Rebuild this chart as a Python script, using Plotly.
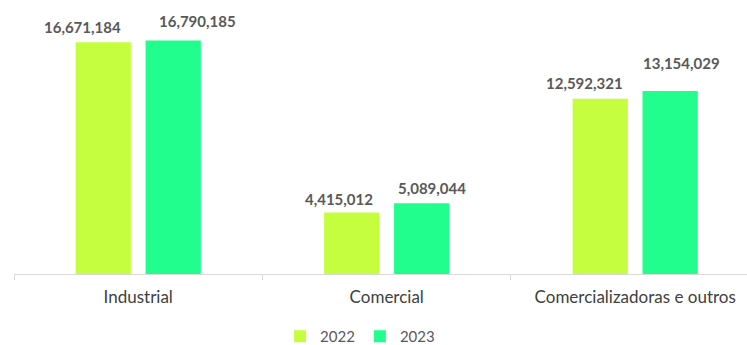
import plotly.graph_objects as go

categories = ["Industrial", "Comercial", "Comercializadoras e outros"]
values_2022 = [16671184, 4415012, 12592321]
values_2023 = [16790185, 5089044, 13154029]

# Hand-placed nudges (px) for the value labels so neighbouring labels don't collide
nudge_2022 = [(-21, 15), (-13, 14), (-16, 16)]
nudge_2023 = [(24, 19), (10, 15), (11, 28)]

FONT = "Lato, Calibri, sans-serif"
label_font = dict(family=FONT, size=15, color="#595959")
BAR_SLOT = 35  # half the pixel pitch between the two bars in a group

fig = go.Figure()
series = [("2022", values_2022, "#C5FE3E", nudge_2022, -1),
          ("2023", values_2023, "#21FE8D", nudge_2023, 1)]
for name, vals, color, nudges, side in series:
    fig.add_trace(go.Bar(name=name, x=categories, y=vals, marker_color=color,
                         marker_line_width=0))
    for cat, v, (dx, dy) in zip(categories, vals, nudges):
        fig.add_annotation(x=cat, y=v, text=f"<b>{v:,}</b>", showarrow=False,
                           xshift=side * BAR_SLOT + dx, yshift=dy, yanchor="middle",
                           font=label_font)

fig.update_layout(
    width=747, height=345,
    margin=dict(l=14, r=0, t=0, b=71, autoexpand=False),
    barmode="group", bargap=0.437, bargroupgap=0.21,
    plot_bgcolor="white", paper_bgcolor="white",
    showlegend=True,
    legend=dict(orientation="h", x=0.363, xanchor="left", y=-0.228, yanchor="middle",
                font=dict(family=FONT, size=15, color="#595959"),
                itemwidth=30, tracegroupgap=0),
    xaxis=dict(range=[-0.5, 2.45], showline=True, linecolor="#D9D9D9", linewidth=1,
               ticks="outside", tickson="boundaries", ticklen=5, tickcolor="#D9D9D9",
               automargin=False, ticklabelstandoff=8,
               tickfont=dict(family=FONT, size=17, color="#404040")),
    yaxis=dict(range=[0, 19.7e6], visible=False, showgrid=False),
)

fig.write_html("out.html")
